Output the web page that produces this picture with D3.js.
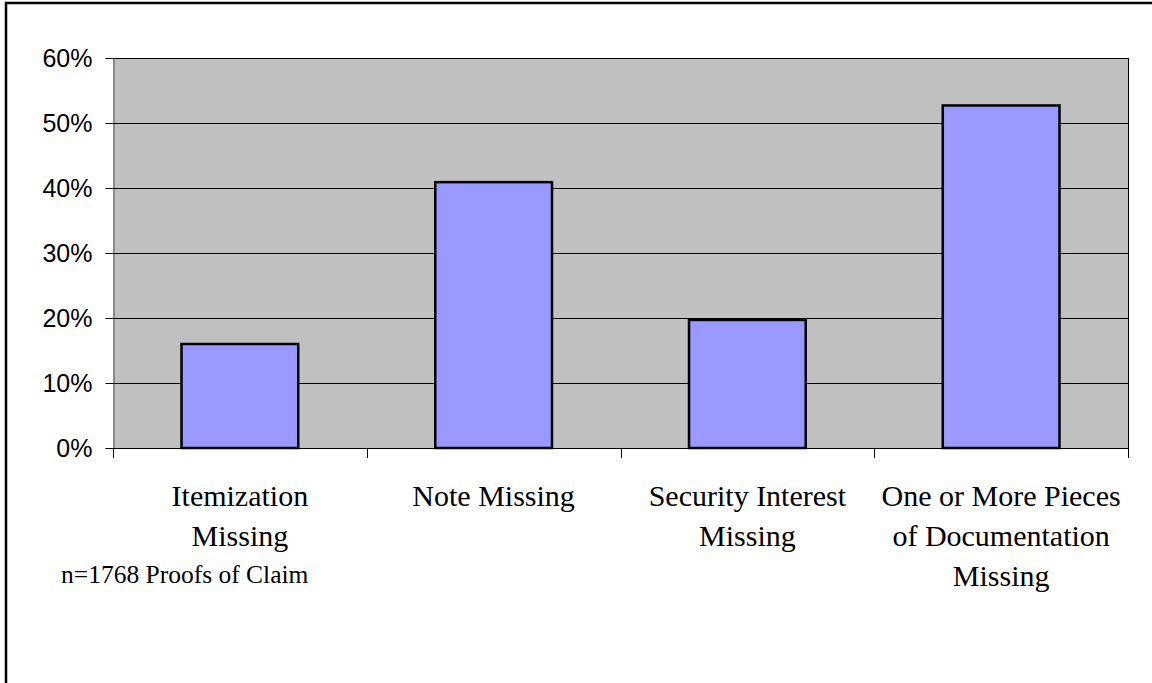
<!DOCTYPE html>
<html>
<head>
<meta charset="utf-8">
<script src="https://cdn.jsdelivr.net/npm/d3@7"></script>
<style>
  html, body { margin: 0; padding: 0; background: #fff; }
  svg { display: block; }
</style>
</head>
<body>
<svg id="chart" width="1152" height="683"></svg>
<script>
const categories = [
  ["Itemization", "Missing"],
  ["Note Missing"],
  ["Security Interest", "Missing"],
  ["One or More Pieces", "of Documentation", "Missing"]
];
const values = [0.160, 0.409, 0.197, 0.527];
const yTicks = [0, 0.1, 0.2, 0.3, 0.4, 0.5, 0.6];
const footnote = "n=1768 Proofs of Claim";

const svg = d3.select("#chart");
const plot = { left: 113, right: 1128, top: 58, bottom: 448 };

// outer frame (extends past the visible window on right and bottom)
svg.append("rect")
  .attr("x", 6).attr("y", 3)
  .attr("width", 1160).attr("height", 700)
  .attr("fill", "#fff").attr("stroke", "#000").attr("stroke-width", 2.5);

const x = d3.scaleBand()
  .domain(d3.range(categories.length))
  .range([plot.left, plot.right])
  .paddingInner(0.54).paddingOuter(0.27);

const xb = d3.scaleBand()
  .domain(d3.range(categories.length))
  .range([plot.left, plot.right]);

const y = d3.scaleLinear().domain([0, 0.6]).range([plot.bottom, plot.top]);

// plot area background
svg.append("rect")
  .attr("x", plot.left).attr("y", plot.top)
  .attr("width", plot.right - plot.left).attr("height", plot.bottom - plot.top)
  .attr("fill", "#C0C0C0");

// gridlines
svg.append("g").selectAll("line")
  .data(yTicks.filter(d => d > 0))
  .join("line")
  .attr("x1", plot.left).attr("x2", plot.right)
  .attr("y1", d => Math.round(y(d)) + 0.5).attr("y2", d => Math.round(y(d)) + 0.5)
  .attr("stroke", "#000").attr("stroke-width", 1);

// right border of plot
svg.append("line")
  .attr("x1", plot.right + 0.5).attr("x2", plot.right + 0.5)
  .attr("y1", plot.top).attr("y2", plot.bottom)
  .attr("stroke", "#000").attr("stroke-width", 1);

// bars
svg.append("g").selectAll("rect")
  .data(values)
  .join("rect")
  .attr("x", (d, i) => x(i))
  .attr("y", d => y(d))
  .attr("width", x.bandwidth())
  .attr("height", d => y(0) - y(d))
  .attr("fill", "#9999FF")
  .attr("stroke", "#000")
  .attr("stroke-width", 2.5);

// y axis
const yAxis = d3.axisLeft(y)
  .tickValues(yTicks)
  .tickFormat(d3.format(".0%"))
  .tickSize(8)
  .tickPadding(13);
const gy = svg.append("g")
  .attr("transform", `translate(${plot.left + 0.5},0)`)
  .call(yAxis);
gy.select(".domain").attr("stroke", "#555").attr("stroke-width", 1);
gy.selectAll(".tick line").attr("stroke", "#000");
gy.selectAll(".tick text")
  .attr("font-family", "Arial, 'Liberation Sans', sans-serif")
  .attr("font-size", 25)
  .attr("fill", "#000");

// x axis line and ticks at band boundaries
const xAxisG = svg.append("g");
xAxisG.append("line")
  .attr("x1", plot.left).attr("x2", plot.right + 1)
  .attr("y1", plot.bottom + 0.5).attr("y2", plot.bottom + 0.5)
  .attr("stroke", "#000").attr("stroke-width", 1);
const boundaries = d3.range(categories.length + 1).map(i => i < categories.length ? xb(i) : plot.right);
xAxisG.selectAll("line.tk")
  .data(boundaries)
  .join("line")
  .attr("class", "tk")
  .attr("x1", d => Math.round(d) + 0.5).attr("x2", d => Math.round(d) + 0.5)
  .attr("y1", plot.bottom).attr("y2", plot.bottom + 10)
  .attr("stroke", "#000").attr("stroke-width", 1);

// category labels
const labels = svg.append("g")
  .attr("font-family", "'Times New Roman', 'Liberation Serif', serif")
  .attr("font-size", 30)
  .attr("fill", "#000")
  .attr("text-anchor", "middle");
categories.forEach((lines, i) => {
  const t = labels.append("text")
    .attr("x", xb(i) + xb.bandwidth() / 2)
    .attr("y", 506);
  lines.forEach((ln, j) => {
    t.append("tspan")
      .attr("x", xb(i) + xb.bandwidth() / 2)
      .attr("dy", j === 0 ? 0 : 40)
      .text(ln);
  });
});

// footnote
svg.append("text")
  .attr("x", 61).attr("y", 583)
  .attr("font-family", "'Times New Roman', 'Liberation Serif', serif")
  .attr("font-size", 25.5)
  .attr("fill", "#000")
  .text(footnote);
</script>
</body>
</html>
